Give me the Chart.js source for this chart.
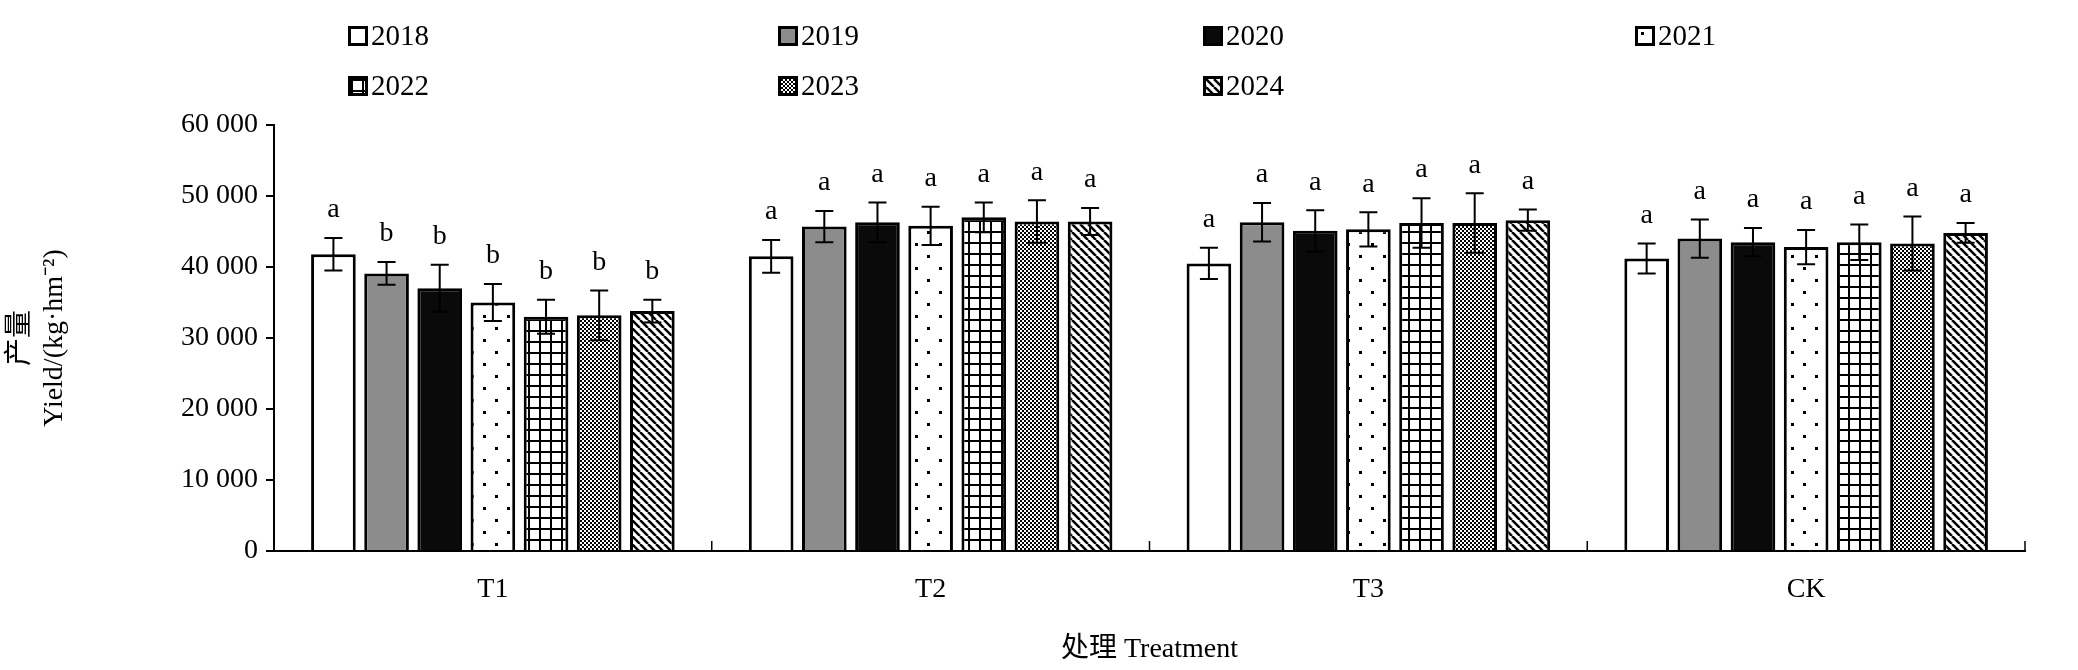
<!DOCTYPE html>
<html>
<head>
<meta charset="utf-8">
<script src="https://cdn.jsdelivr.net/npm/chart.js@4"></script>
<style>
  body { margin: 0; background: #fff; }
  #wrap { position: relative; width: 2078px; height: 670px; }
  .leg { position: absolute; font: 29px "Liberation Serif", serif; color: #000; display: flex; align-items: center; }
  .leg canvas { border: 3px solid #000; width: 14px; height: 14px; margin-right: 3px; }
</style>
</head>
<body>
<div id="wrap">
  <canvas id="chart" width="2078" height="670"></canvas>
</div>
<script>
document.addEventListener('DOMContentLoaded', function () {
    const years = ['2018', '2019', '2020', '2021', '2022', '2023', '2024'];
    const treatments = ['T1', 'T2', 'T3', 'CK'];

    // yield by year, one value per treatment
    const yields = {
        '2018': [41800, 41500, 40500, 41200],
        '2019': [39100, 45700, 46300, 44000],
        '2020': [37000, 46300, 45100, 43500],
        '2021': [35000, 45800, 45300, 42800],
        '2022': [33000, 47000, 46200, 43500],
        '2023': [33200, 46400, 46200, 43300],
        '2024': [33800, 46400, 46600, 44800]
    };
    const errors = {
        '2018': [2300, 2300, 2200, 2100],
        '2019': [1600, 2200, 2700, 2700],
        '2020': [3300, 2800, 2900, 2000],
        '2021': [2600, 2700, 2400, 2400],
        '2022': [2400, 2100, 3500, 2500],
        '2023': [3500, 3000, 4200, 3800],
        '2024': [1600, 1900, 1500, 1400]
    };
    const letters = {
        T1: ['a', 'b', 'b', 'b', 'b', 'b', 'b'],
        T2: ['a', 'a', 'a', 'a', 'a', 'a', 'a'],
        T3: ['a', 'a', 'a', 'a', 'a', 'a', 'a'],
        CK: ['a', 'a', 'a', 'a', 'a', 'a', 'a']
    };

    function makePattern(kind) {
        const c = document.createElement('canvas');
        const s = kind === 'grid' ? 11 : (kind === 'dots' ? 24 : 8);
        c.width = s; c.height = s;
        const g = c.getContext('2d');
        g.fillStyle = '#fff';
        g.fillRect(0, 0, s, s);
        g.fillStyle = '#000';
        g.strokeStyle = '#000';
        if (kind === 'dots') {
            g.fillRect(3, 3, 3, 3);
            g.fillRect(15, 15, 3, 3);
        } else if (kind === 'grid') {
            g.fillRect(0, 0, s, 2);
            g.fillRect(0, 0, 2, s);
        } else if (kind === 'check') {
            for (let y = 0; y < s; y += 2)
                for (let x = (y / 2) % 2 * 2; x < s; x += 4) g.fillRect(x, y, 2, 2);
        } else if (kind === 'diag') {
            g.lineWidth = 2.5;
            for (let k = -s; k <= s; k += s) {
                g.beginPath(); g.moveTo(k, 0); g.lineTo(k + s, s); g.stroke();
            }
        }
        return c;
    }

    const ctx = document.getElementById('chart').getContext('2d');
    const fills = {
        '2018': '#ffffff',
        '2019': '#8c8c8c',
        '2020': '#0a0a0a',
        '2021': ctx.createPattern(makePattern('dots'), 'repeat'),
        '2022': ctx.createPattern(makePattern('grid'), 'repeat'),
        '2023': ctx.createPattern(makePattern('check'), 'repeat'),
        '2024': ctx.createPattern(makePattern('diag'), 'repeat')
    };

    // legend, two rows of four columns
    const legX = [348, 778, 1203, 1635];
    const wrap = document.getElementById('wrap');
    years.forEach((y, i) => {
        const d = document.createElement('div');
        d.className = 'leg';
        d.style.left = legX[i % 4] + 'px';
        d.style.top = (i < 4 ? 19 : 69) + 'px';
        const sw = document.createElement('canvas');
        sw.width = 14; sw.height = 14;
        const sg = sw.getContext('2d');
        sg.fillStyle = sg.createPattern(makePattern(['w', 'w', 'w', 'dots', 'grid', 'check', 'diag'][i]), 'repeat');
        if (i < 3) sg.fillStyle = fills[y];
        sg.fillRect(0, 0, 14, 14);
        d.appendChild(sw);
        d.appendChild(document.createTextNode(y));
        wrap.appendChild(d);
    });

    const serif = '"Liberation Serif", "Noto Sans CJK SC", serif';

    const extras = {
        id: 'extras',
        afterDatasetsDraw(chart) {
            const c = chart.ctx;
            const ys = chart.scales.y, xs = chart.scales.x;
            c.save();
            c.strokeStyle = '#000';
            c.lineWidth = 2;
            c.fillStyle = '#000';
            c.font = '28px ' + serif;
            c.textAlign = 'center';
            c.textBaseline = 'bottom';
            chart.data.datasets.forEach((ds, di) => {
                chart.getDatasetMeta(di).data.forEach((bar, i) => {
                    const v = ds.data[i], e = errors[ds.label][i];
                    const top = ys.getPixelForValue(v + e), bot = ys.getPixelForValue(v - e);
                    c.beginPath();
                    c.moveTo(bar.x, top); c.lineTo(bar.x, bot);
                    c.moveTo(bar.x - 9, top); c.lineTo(bar.x + 9, top);
                    c.moveTo(bar.x - 9, bot); c.lineTo(bar.x + 9, bot);
                    c.stroke();
                    c.fillText(letters[treatments[i]][di], bar.x, top - 14);
                });
            });
            // boundary ticks between groups
            const step = (xs.right - xs.left) / treatments.length;
            c.lineWidth = 1.5;
            for (let k = 0; k <= treatments.length; k++) {
                const x = xs.left + k * step;
                c.beginPath(); c.moveTo(x, xs.top); c.lineTo(x, xs.top - 10); c.stroke();
            }
            c.restore();
        }
    };

    new Chart(ctx, {
        type: 'bar',
        data: {
            labels: treatments,
            datasets: years.map(y => ({
                label: y,
                data: yields[y],
                backgroundColor: fills[y],
                borderColor: '#000',
                borderWidth: 3,
                categoryPercentage: 0.85,
                barPercentage: 0.84
            }))
        },
        options: {
            responsive: false,
            animation: false,
            layout: { padding: { top: 125, right: 53, left: 0, bottom: 0 } },
            scales: {
                x: {
                    afterFit: s => { s.height = 119; },
                    grid: { display: false },
                    border: { color: '#000', width: 2 },
                    ticks: { color: '#000', font: { family: serif, size: 28 }, padding: 14 },
                    title: { display: true, text: '处理 Treatment', color: '#000', font: { family: serif, size: 28 }, padding: { top: 8 } }
                },
                y: {
                    min: 0, max: 60000,
                    afterFit: s => { s.width = 274; },
                    grid: { drawOnChartArea: false, tickLength: 8, color: '#000', lineWidth: 2 },
                    border: { color: '#000', width: 2 },
                    ticks: {
                        stepSize: 10000, color: '#000', padding: 8,
                        font: { family: serif, size: 28 },
                        callback: v => v === 0 ? '0' : (v / 1000) + ' 000'
                    },
                    title: { display: true, text: ['产量', 'Yield/(kg·hm⁻²)'], color: '#000', font: { family: serif, size: 28 }, padding: 4 }
                }
            },
            plugins: {
                legend: { display: false },
                tooltip: { enabled: false }
            }
        },
        plugins: [extras]
    });
});
</script>
</body>
</html>
